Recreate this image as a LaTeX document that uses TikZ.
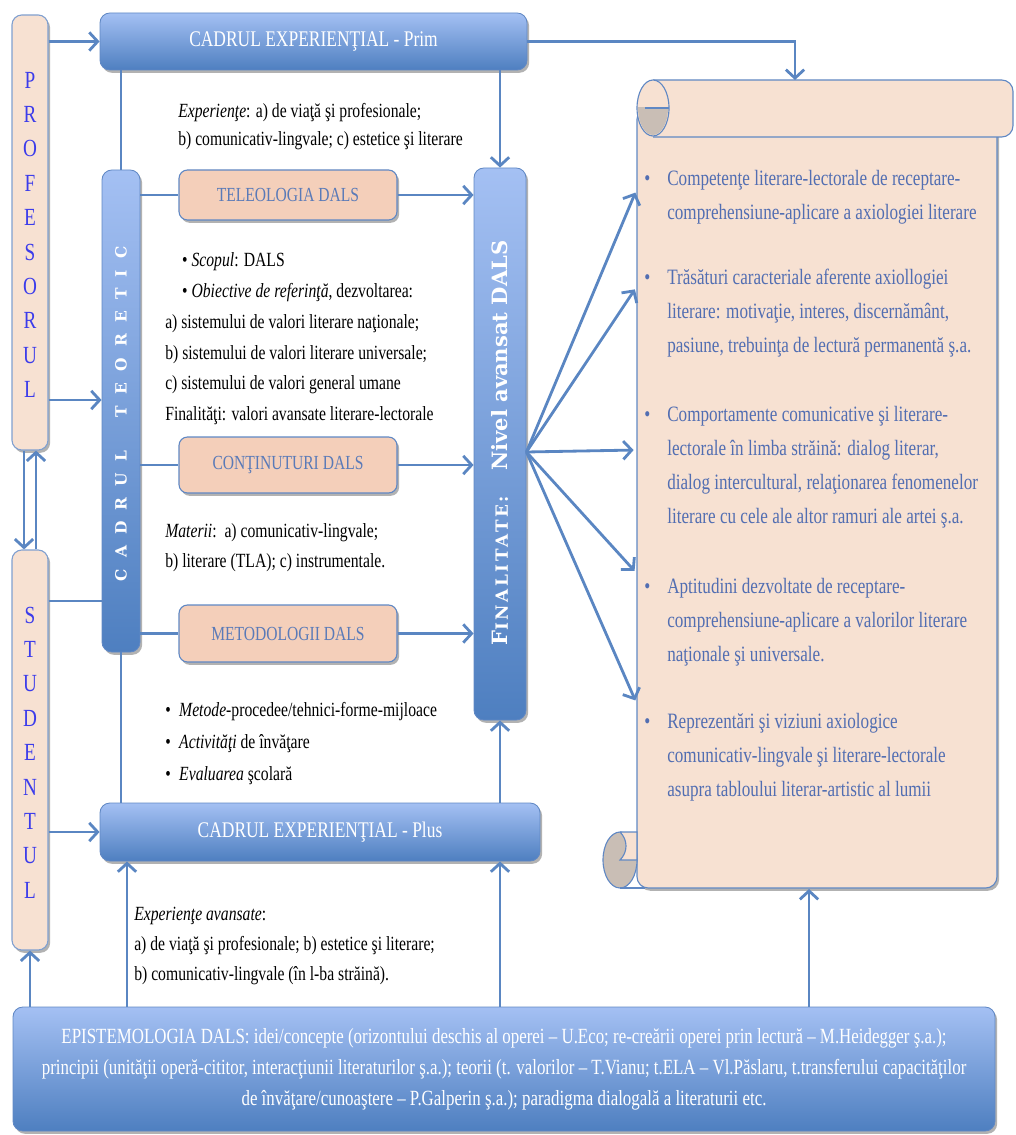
\documentclass[tikz,border=0pt]{standalone}
\usepackage{fontspec}
\setmainfont{Liberation Serif}[FakeStretch=0.78]
\newfontfamily\rotfont{DejaVu Serif}
\usetikzlibrary{arrows.meta,shadows}

\definecolor{bluetop}{RGB}{164,192,243}
\definecolor{bluebot}{RGB}{78,127,192}
\definecolor{boxedge}{RGB}{96,136,196}
\definecolor{peachfill}{RGB}{244,207,186}
\definecolor{peachpale}{RGB}{247,225,210}
\definecolor{linkblue}{RGB}{90,134,194}
\definecolor{boxtext}{RGB}{90,122,184}
\definecolor{scrolltext}{RGB}{82,110,178}
\definecolor{letterblue}{RGB}{60,60,235}
\definecolor{rollgrey}{RGB}{201,190,181}

\tikzset{
  boxsize/.style 2 args={minimum width={#1*0.025cm},minimum height={#2*0.025cm}},
  softshadow/.style={drop shadow={shadow xshift=1.5pt,shadow yshift=-2pt,opacity=0.3,fill=black}},
  bluebox/.style={draw=boxedge,line width=0.6pt,rounded corners=7pt,top color=bluetop,bottom color=bluebot,softshadow,inner sep=0pt,text=white},
  peachbox/.style={draw=boxedge,line width=0.8pt,rounded corners=6pt,fill=peachfill,softshadow,inner sep=0pt,text=boxtext,font=\fontsize{14.2}{15}\selectfont},
  sidebox/.style={draw=boxedge!80,line width=0.8pt,rounded corners=7pt,fill=peachpale,softshadow,inner sep=0pt},
  sidechar/.style={text=letterblue,font=\fontsize{17.5}{18}\selectfont,inner sep=0pt},
  note/.style={anchor=north west,align=left,inner sep=0pt,font=\fontsize{14.3}{22}\selectfont},
  scrollnote/.style={anchor=north west,align=left,inner sep=0pt,text=scrolltext,font=\fontsize{15.6}{24.2}\selectfont},
  link/.style={draw=linkblue,line width=2pt},
  arr/.style={link,-{Straight Barb[length=6pt,width=13pt]}},
  rotlabel/.style={rotate=90,text=white,inner sep=0pt}
}

\begin{document}
\begin{tikzpicture}[x=0.025cm,y=-0.025cm]
\useasboundingbox (0,0) rectangle (1016,1135);

% the scroll on the right
\node[draw=boxedge,line width=0.8pt,fill=peachpale,rounded corners=8pt,softshadow,boxsize={360}{780}] (scroll) at (817,498) {};
\draw[boxedge,line width=0.8pt,fill=peachpale,rounded corners=8pt] (653,80) -- (1013,80) -- (1013,137) -- (653,137);
\draw[boxedge,line width=0.8pt,fill=peachpale] (653,108) ellipse [x radius=16,y radius=28];
\begin{scope}
  \clip (630,108) rectangle (680,140);
  \fill[rollgrey] (653,108) ellipse [x radius=15,y radius=27];
\end{scope}
\draw[boxedge,line width=0.8pt] (645,108) -- (669,108);
\draw[boxedge,line width=0.8pt,fill=rollgrey] (620,860) ellipse [x radius=17,y radius=28];
\draw[boxedge,line width=0.8pt,fill=peachpale] (620,832) -- (637,832) -- (637,860) -- (620,860) .. controls (628,852) and (628,840) .. (620,832);
\draw[boxedge,line width=0.8pt] (620,888) -- (645,888);
\coordinate (scrolltop) at (795,80);
\coordinate (scrollbot) at (809,889);

\foreach \ty/\txt in {
  170/{Competenţe literare-lectorale de receptare-\\comprehensiune-aplicare a axiologiei literare},
  269/{Trăsături caracteriale aferente axiollogiei\\literare: motivaţie, interes, discernământ,\\pasiune, trebuinţa de lectură permanentă ş.a.},
  406/{Comportamente comunicative şi literare-\\lectorale în limba străină: dialog literar,\\dialog intercultural, relaţionarea fenomenelor\\literare cu cele ale altor ramuri ale artei ş.a.},
  578/{Aptitudini dezvoltate de receptare-\\comprehensiune-aplicare a valorilor literare\\naţionale şi universale.},
  713/{Reprezentări şi viziuni axiologice\\comunicativ-lingvale şi literare-lectorale\\asupra tabloului literar-artistic al lumii}}
  \node[scrollnote] (item\ty) at (667,\ty) {\llap{\textbullet\hspace{12pt}}\txt};

% left column
\node[sidebox,boxsize={36}{435}] (prof) at (30,232.5) {};
\node[sidebox,boxsize={36}{400}] (stud) at (30,750) {};
\foreach \ch [count=\i] in {P,R,O,F,E,S,O,R,U,L}
  \node[sidechar] (pl\i) at (30,{80+34.4*(\i-1)}) {\ch};
\foreach \ch [count=\i] in {S,T,U,D,E,N,T,U,L}
  \node[sidechar] (sl\i) at (30,{615+34.4*(\i-1)}) {\ch};

% blue frames
\node[bluebox,boxsize={427}{57},font=\fontsize{15.9}{17}\selectfont] (prim) at (313.5,41.5) {CADRUL EXPERIENŢIAL - Prim};
\node[bluebox,boxsize={440}{58},font=\fontsize{15.9}{17}\selectfont] (plus) at (320,832) {CADRUL EXPERIENŢIAL - Plus};
\node[bluebox,boxsize={38}{482}] (teor) at (121,411) {};
\node[bluebox,boxsize={52}{552}] (fin) at (500,444) {};
\node[bluebox,boxsize={982}{124},align=center,font=\fontsize{15.4}{22}\selectfont] (epist) at (504,1069)
  {EPISTEMOLOGIA DALS: idei/concepte (orizontului deschis al operei – U.Eco; re-creării operei prin lectură – M.Heidegger ş.a.);\\
   principii (unităţii operă-cititor, interacţiunii literaturilor ş.a.); teorii (t. valorilor – T.Vianu; t.ELA – Vl.Păslaru, t.transferului capacităţilor\\
   de învăţare/cunoaştere – P.Galperin ş.a.); paradigma dialogală a literaturii etc.};
\node[rotlabel,font=\rotfont\bfseries\fontsize{11}{11}\selectfont] (teorlabel) at (121,414)
  {\addfontfeatures{LetterSpace=72}CADRUL\hspace{24pt}TEORETIC};
\node[rotlabel,font=\rotfont\bfseries] (finlabel) at (500,443)
  {{\fontsize{15}{15}\selectfont F}{\fontsize{12}{12}\selectfont\addfontfeatures{LetterSpace=15}INALITATE:}\hspace{18pt}{\fontsize{15}{15}\selectfont Nivel avansat DALS}};

% peach boxes
\node[peachbox,boxsize={218}{50}] (teleo) at (288,195) {TELEOLOGIA DALS};
\node[peachbox,boxsize={218}{56}] (cont) at (288,465) {CONŢINUTURI DALS};
\node[peachbox,boxsize={218}{57}] (metod) at (288,633.5) {METODOLOGII DALS};

% notes
\node[note,font=\fontsize{14.3}{19.9}\selectfont] (expprim) at (178,103)
  {\textit{Experienţe}: a) de viaţă şi profesionale;\\b) comunicativ-lingvale; c) estetice şi literare};
\node[note] (scop) at (165,252)
  {\hspace*{12pt}\textbullet\ \textit{Scopul}: DALS\\\hspace*{12pt}\textbullet\ \textit{Obiective de referinţă}, dezvoltarea:\\a) sistemului de valori literare naţionale;\\b) sistemului de valori literare universale;\\c) sistemului de valori general umane\\Finalităţi: valori avansate literare-lectorale};
\node[note,font=\fontsize{14.3}{21.3}\selectfont] (mat) at (165,523)
  {\textit{Materii}:\ \ a) comunicativ-lingvale;\\b) literare (TLA); c) instrumentale.};
\node[note,font=\fontsize{14.3}{22.7}\selectfont] (metode) at (165,702)
  {\textbullet\hspace{6pt}\textit{Metode}-procedee/tehnici-forme-mijloace\\\textbullet\hspace{6pt}\textit{Activităţi} de învăţare\\\textbullet\hspace{6pt}\textit{Evaluarea} şcolară};
\node[note,font=\fontsize{14.3}{21.3}\selectfont] (expplus) at (134,907)
  {\textit{Experienţe avansate}:\\a) de viaţă şi profesionale; b) estetice şi literare;\\b) comunicativ-lingvale (în l-ba străină).};

% connectors
\draw[arr] (prof.east |- prim.west) -- (prim.west);
\draw[arr] (prof.east |- 0,400) -- (teor.west |- 0,400);
\draw[arr] (prof.south -| 24,0) -- (stud.north -| 24,0);
\draw[arr] (stud.north -| 36,0) -- (prof.south -| 36,0);
\draw[link] (stud.east |- 0,601) -- (teor.west |- 0,601);
\draw[arr] (stud.east |- plus.west) -- (plus.west);
\draw[arr] (epist.north -| stud) -- (stud.south);
\draw[link] (prim.south -| teor) -- (teor.north);
\draw[arr] (prim.south -| fin) -- (fin.north);
\draw[arr] (prim.east) -| (scrolltop);
\foreach \bx in {teleo,cont,metod} {
  \draw[link] (teor.east |- \bx.west) -- (\bx.west);
  \draw[arr] (\bx.east) -- (fin.west |- \bx.east);
}
\draw[link] (teor.south) -- (plus.north -| teor);
\draw[arr] (plus.north -| fin) -- (fin.south);
\draw[arr] (epist.north -| 127,0) -- (plus.south -| 127,0);
\draw[arr] (epist.north -| fin) -- (plus.south -| fin);
\draw[arr] (epist.north -| scrollbot) -- (scrollbot);
\coordinate (hub) at (fin.east |- 0,452);
\foreach \ty in {190,287,450,573,703}
  \draw[arr,shorten >=2pt] (hub) -- (scroll.west |- 0,\ty);

\end{tikzpicture}
\end{document}
